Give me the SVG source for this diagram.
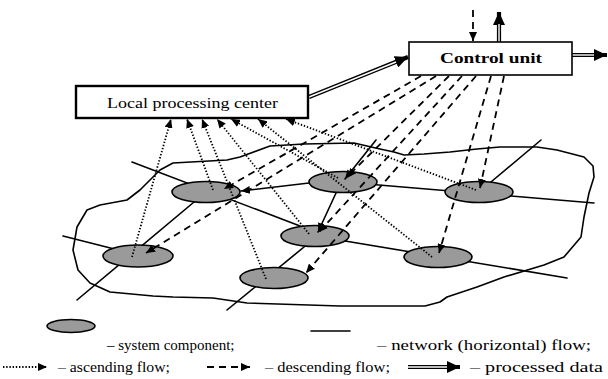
<svg xmlns="http://www.w3.org/2000/svg" width="608" height="379" viewBox="0 0 608 379">
<defs>
<style>
.net{stroke:#000;stroke-width:1.6;fill:none;stroke-linecap:round}
.node{fill:#9a9a9a;stroke:#000;stroke-width:1.6}
.dot{stroke:#000;stroke-width:1.8;fill:none;stroke-dasharray:1.4 1.8}
.dash{stroke:#000;stroke-width:1.8;fill:none;stroke-dasharray:7 5}
.dbl{stroke:#000;stroke-width:4.2;fill:none}
.dblw{stroke:#fff;stroke-width:1.4;fill:none}
.box{fill:#fff;stroke:#000}
.t{font-family:"Liberation Serif","Times New Roman",serif;font-size:15px;fill:#000}
</style>
<marker id="ah" markerUnits="userSpaceOnUse" markerWidth="10" markerHeight="8" refX="9" refY="4" orient="auto">
<path d="M0,0 L9,4 L0,8 Z" fill="#000"/>
</marker>
<marker id="ahb" markerUnits="userSpaceOnUse" markerWidth="14" markerHeight="12" refX="13" refY="6" orient="auto">
<path d="M0,0 L13,6 L0,12 Z" fill="#000"/>
</marker>
</defs>
<rect width="608" height="379" fill="#fff"/>

<path id="network-boundary" class="net" stroke-linejoin="round" d="M160,170 L173,163 L227,160 L240,157 L270,146 L304,144 L354,143 L380,149 L394,152 L404,155 L424,154 L450,152 L477,149 L500,147 L537,147 L557,150 L584,157 L593,166 L594,177 L589,193 L584,217 L581,237 L564,257 L544,265 L504,277 L477,287 L447,297 L440,302 L425,306 L340,306 L247,303 L213,298 L173,297 L153,296 L110,292 L90,283 L78,270 L73,250 L77,227 L87,210 L100,205 L127,200 L140,190 Z"/>

<g id="connectors">
<g id="network-lines">
<line class="net" x1="132" y1="162" x2="300" y2="226"/>
<line class="net" x1="77" y1="300" x2="206" y2="192"/>
<line class="net" x1="63" y1="236" x2="138" y2="255"/>
<line class="net" x1="343" y1="182" x2="594" y2="203"/>
<line class="net" x1="541" y1="140" x2="479" y2="192"/>
<line class="net" x1="315" y1="236" x2="567" y2="278"/>
<line class="net" x1="227" y1="310" x2="315" y2="238"/>
</g>
</g>

<g id="node-A"><ellipse class="node" cx="206" cy="192" rx="34" ry="10.5"/></g>
<g id="node-B"><ellipse class="node" cx="138" cy="256" rx="35" ry="11"/></g>
<g id="node-C"><ellipse class="node" cx="343" cy="182" rx="34" ry="10.5"/></g>
<g id="node-D"><ellipse class="node" cx="315" cy="236" rx="34" ry="10.5"/></g>
<g id="node-E"><ellipse class="node" cx="274" cy="278" rx="34" ry="10.5"/></g>
<g id="node-F"><ellipse class="node" cx="479" cy="192" rx="34" ry="10.5"/></g>
<g id="node-G"><ellipse class="node" cx="438" cy="257" rx="34" ry="10.5"/></g>

<g id="flows">
<line class="net" x1="309" y1="183" x2="241" y2="191" marker-end="url(#ah)"/>
<line class="net" x1="376" y1="140" x2="345" y2="179" marker-end="url(#ah)"/>
<line class="net" x1="336" y1="193" x2="318" y2="232" marker-end="url(#ah)"/>

<line class="dot" x1="132" y1="257" x2="171" y2="119" marker-end="url(#ah)"/>
<line class="dot" x1="213" y1="190" x2="187" y2="119" marker-end="url(#ah)"/>
<line class="dot" x1="266" y1="279" x2="202" y2="119" marker-end="url(#ah)"/>
<line class="dot" x1="309" y1="234" x2="217" y2="119" marker-end="url(#ah)"/>
<line class="dot" x1="338" y1="178" x2="231" y2="119" marker-end="url(#ah)"/>
<line class="dot" x1="432" y1="257" x2="258" y2="119" marker-end="url(#ah)"/>
<line class="dot" x1="476" y1="190" x2="286" y2="119" marker-end="url(#ah)"/>

<line class="dash" x1="421" y1="76" x2="224" y2="189" marker-end="url(#ah)"/>
<line class="dash" x1="436" y1="76" x2="146" y2="253" marker-end="url(#ah)"/>
<line class="dash" x1="449" y1="76" x2="347" y2="177" marker-end="url(#ah)"/>
<line class="dash" x1="462" y1="76" x2="319" y2="232" marker-end="url(#ah)"/>
<line class="dash" x1="476" y1="76" x2="306" y2="273" marker-end="url(#ah)"/>
<line class="dash" x1="491" y1="76" x2="439" y2="253" marker-end="url(#ah)"/>
<line class="dash" x1="504" y1="76" x2="480" y2="188" marker-end="url(#ah)"/>

<line class="dash" x1="473" y1="10" x2="473" y2="41" marker-end="url(#ah)"/>

<line class="dbl" x1="309" y1="97" x2="408" y2="57" marker-end="url(#ahb)"/>
<line class="dblw" x1="309" y1="97" x2="396" y2="62"/>
<line class="dbl" x1="499" y1="42" x2="499" y2="12" marker-end="url(#ahb)"/>
<line class="dblw" x1="499" y1="42" x2="499" y2="24"/>
<line class="dbl" x1="572" y1="55" x2="607" y2="55" marker-end="url(#ahb)"/>
<line class="dblw" x1="572" y1="55" x2="594" y2="55"/>
</g>

<g id="node-local-processing-center">
<rect class="box" x="76" y="86" width="232" height="32" stroke-width="2.4"/>
<text class="t" x="107" y="108" font-size="14" textLength="171" lengthAdjust="spacingAndGlyphs">Local processing center</text>
</g>

<g id="node-control-unit">
<rect class="box" x="409" y="42" width="163" height="33" stroke-width="1.6"/>
<text class="t" x="440" y="63" font-size="16" font-weight="bold" textLength="102" lengthAdjust="spacingAndGlyphs">Control unit</text>
</g>

<g id="legend">
<ellipse class="node" cx="71" cy="326" rx="24" ry="6.5"/>
<text class="t" x="107" y="350">– system component;</text>
<line class="net" x1="311" y1="331" x2="350" y2="331"/>
<text class="t" x="377" y="350" textLength="214" lengthAdjust="spacingAndGlyphs">– network (horizontal) flow;</text>
<line class="dot" x1="3" y1="367" x2="47" y2="367" marker-end="url(#ah)"/>
<text class="t" x="58" y="372" textLength="112" lengthAdjust="spacingAndGlyphs">– ascending flow;</text>
<line class="dash" x1="207" y1="367" x2="250" y2="367" stroke-dasharray="9 5" marker-end="url(#ah)"/>
<text class="t" x="265" y="372" textLength="125" lengthAdjust="spacingAndGlyphs">– descending flow;</text>
<line class="dbl" x1="408" y1="367" x2="460" y2="367" marker-end="url(#ahb)"/>
<line class="dblw" x1="408" y1="367" x2="447" y2="367"/>
<text class="t" x="470" y="372" textLength="133" lengthAdjust="spacingAndGlyphs">– processed data</text>
</g>
</svg>
